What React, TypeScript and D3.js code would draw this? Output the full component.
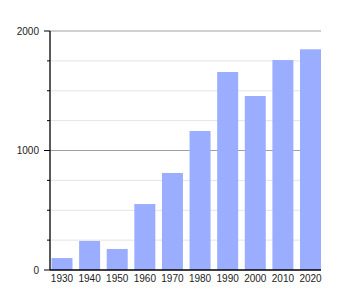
import React from "react";
import * as d3 from "d3";

const years = ["1930", "1940", "1950", "1960", "1970", "1980", "1990", "2000", "2010", "2020"];
const population = [100, 243, 176, 552, 812, 1163, 1657, 1456, 1757, 1847];
const majorTicks = [0, 1000, 2000];
const minorTicks = [250, 500, 750, 1250, 1500, 1750];

const W = 350;
const H = 300;
const left = 50;
const right = 321;
const top = 31;
const bottom = 270;

export default function App() {
  const x = d3.scaleBand<string>().domain(years).range([51.5, 321]).paddingInner(0.24).paddingOuter(0);
  const y = d3.scaleLinear().domain([0, 2000]).range([bottom, top]);
  const font = "'Liberation Sans', Arial, sans-serif";
  return (
    <svg width={W} height={H} style={{ position: "absolute", left: 0, top: 0, background: "#fff" }}>
      {minorTicks.map((t) => (
        <g key={"m" + t}>
          <line x1={left} x2={right} y1={y(t)} y2={y(t)} stroke="#e4e4e4" strokeWidth={1} />
          <line x1={left - 3} x2={left} y1={y(t)} y2={y(t)} stroke="#000" strokeWidth={1} />
        </g>
      ))}
      {majorTicks.map((t) => (
        <g key={"M" + t}>
          {t > 0 && <line x1={left} x2={right} y1={y(t)} y2={y(t)} stroke="#a0a0a0" strokeWidth={1} />}
          <line x1={left - 6} x2={left} y1={y(t)} y2={y(t)} stroke="#000" strokeWidth={1} />
          <text x={39} y={y(t)} dy="0.35em" textAnchor="end" fontSize={10} fontFamily={font} fill="#222">
            {t}
          </text>
        </g>
      ))}
      {years.map((yr, i) => (
        <rect
          key={yr}
          x={x(yr)}
          width={x.bandwidth()}
          y={y(population[i])}
          height={bottom - y(population[i])}
          fill="#9badff"
        />
      ))}
      <line x1={left} x2={left} y1={top} y2={bottom} stroke="#000" strokeWidth={1.3} />
      <line x1={left} x2={right} y1={bottom} y2={bottom} stroke="#000" strokeWidth={1.3} />
      {years.map((yr) => (
        <text
          key={"l" + yr}
          x={(x(yr) as number) + x.bandwidth() / 2}
          y={282}
          textAnchor="middle"
          fontSize={10}
          fontFamily={font}
          fill="#222"
        >
          {yr}
        </text>
      ))}
    </svg>
  );
}
